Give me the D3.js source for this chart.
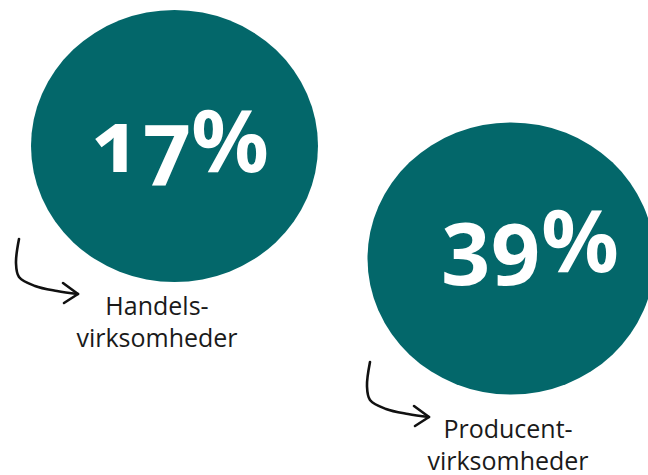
<!DOCTYPE html>
<html>
<head>
<meta charset="utf-8">
<script src="https://cdn.jsdelivr.net/npm/d3@7"></script>
<style>
  html, body { margin: 0; padding: 0; background: #ffffff; }
  svg { display: block; }
  .pct { font-family: "Noto Sans", "Open Sans", sans-serif; font-weight: 700; fill: #ffffff;
         font-variant-numeric: oldstyle-nums; font-feature-settings: "onum" 1; }
  .lbl { font-family: "Open Sans", "Noto Sans", sans-serif; fill: #1a1a1a; }
</style>
</head>
<body>
<svg id="chart" width="648" height="475"></svg>
<script>
// Share of businesses, by type
const categories = ["Handelsvirksomheder", "Producentvirksomheder"];
const shares = [17, 39];
const labelLines = [["Handels-", "virksomheder"], ["Producent-", "virksomheder"]];

// layout: bubble centres, value text anchors and caption anchors
const layout = {
  bubbleX: [174.5, 511], bubbleY: [146, 258.5],
  valueX: [180, 530], valueY: [172, 272],
  labelX: [157, 508], labelY: [315, 438]
};

const svg = d3.select("#chart");

const x = d3.scaleOrdinal().domain(categories).range(layout.bubbleX);
const y = d3.scaleOrdinal().domain(categories).range(layout.bubbleY);
const vx = d3.scaleOrdinal().domain(categories).range(layout.valueX);
const vy = d3.scaleOrdinal().domain(categories).range(layout.valueY);
const lx = d3.scaleOrdinal().domain(categories).range(layout.labelX);
const ly = d3.scaleOrdinal().domain(categories).range(layout.labelY);
const rx = 143.5, ry = 136;
const teal = "#03676a";

const data = categories.map((c, i) => ({ cat: c, value: shares[i], lines: labelLines[i] }));

const g = svg.selectAll("g.bubble").data(data).join("g").attr("class", "bubble");

g.append("ellipse")
  .attr("cx", d => x(d.cat))
  .attr("cy", d => y(d.cat))
  .attr("rx", rx)
  .attr("ry", ry)
  .attr("fill", teal);

g.append("text")
  .attr("class", "pct")
  .attr("x", d => vx(d.cat))
  .attr("y", d => vy(d.cat))
  .attr("text-anchor", "middle")
  .attr("font-size", 86)
  .text(d => d.value + "%");

// hand-drawn pointer arrow leading into each caption
const shaft = [[-138, -76], [-141, -52], [-138, -38], [-122, -29], [-100, -24], [-79, -21]];
const head = [[-94, -32], [-79, -21], [-93, -12]];
const line = d3.line().curve(d3.curveCatmullRom.alpha(0.5));
const shift = (pts, d) => pts.map(([a, b]) => [lx(d.cat) + a, ly(d.cat) + b]);

g.append("path")
  .attr("d", d => line(shift(shaft, d)))
  .attr("fill", "none").attr("stroke", "#111").attr("stroke-width", 2.6).attr("stroke-linecap", "round");
g.append("path")
  .attr("d", d => d3.line()(shift(head, d)))
  .attr("fill", "none").attr("stroke", "#111").attr("stroke-width", 2.6)
  .attr("stroke-linecap", "round").attr("stroke-linejoin", "round");

const t = g.append("text")
  .attr("class", "lbl")
  .attr("text-anchor", "middle")
  .attr("font-size", 25)
  .attr("x", d => lx(d.cat))
  .attr("y", d => ly(d.cat));
t.selectAll("tspan").data(d => d.lines.map(l => ({ l, cx: lx(d.cat) }))).join("tspan")
  .attr("x", d => d.cx)
  .attr("dy", (d, i) => i === 0 ? 0 : 32)
  .text(d => d.l);
</script>
</body>
</html>
